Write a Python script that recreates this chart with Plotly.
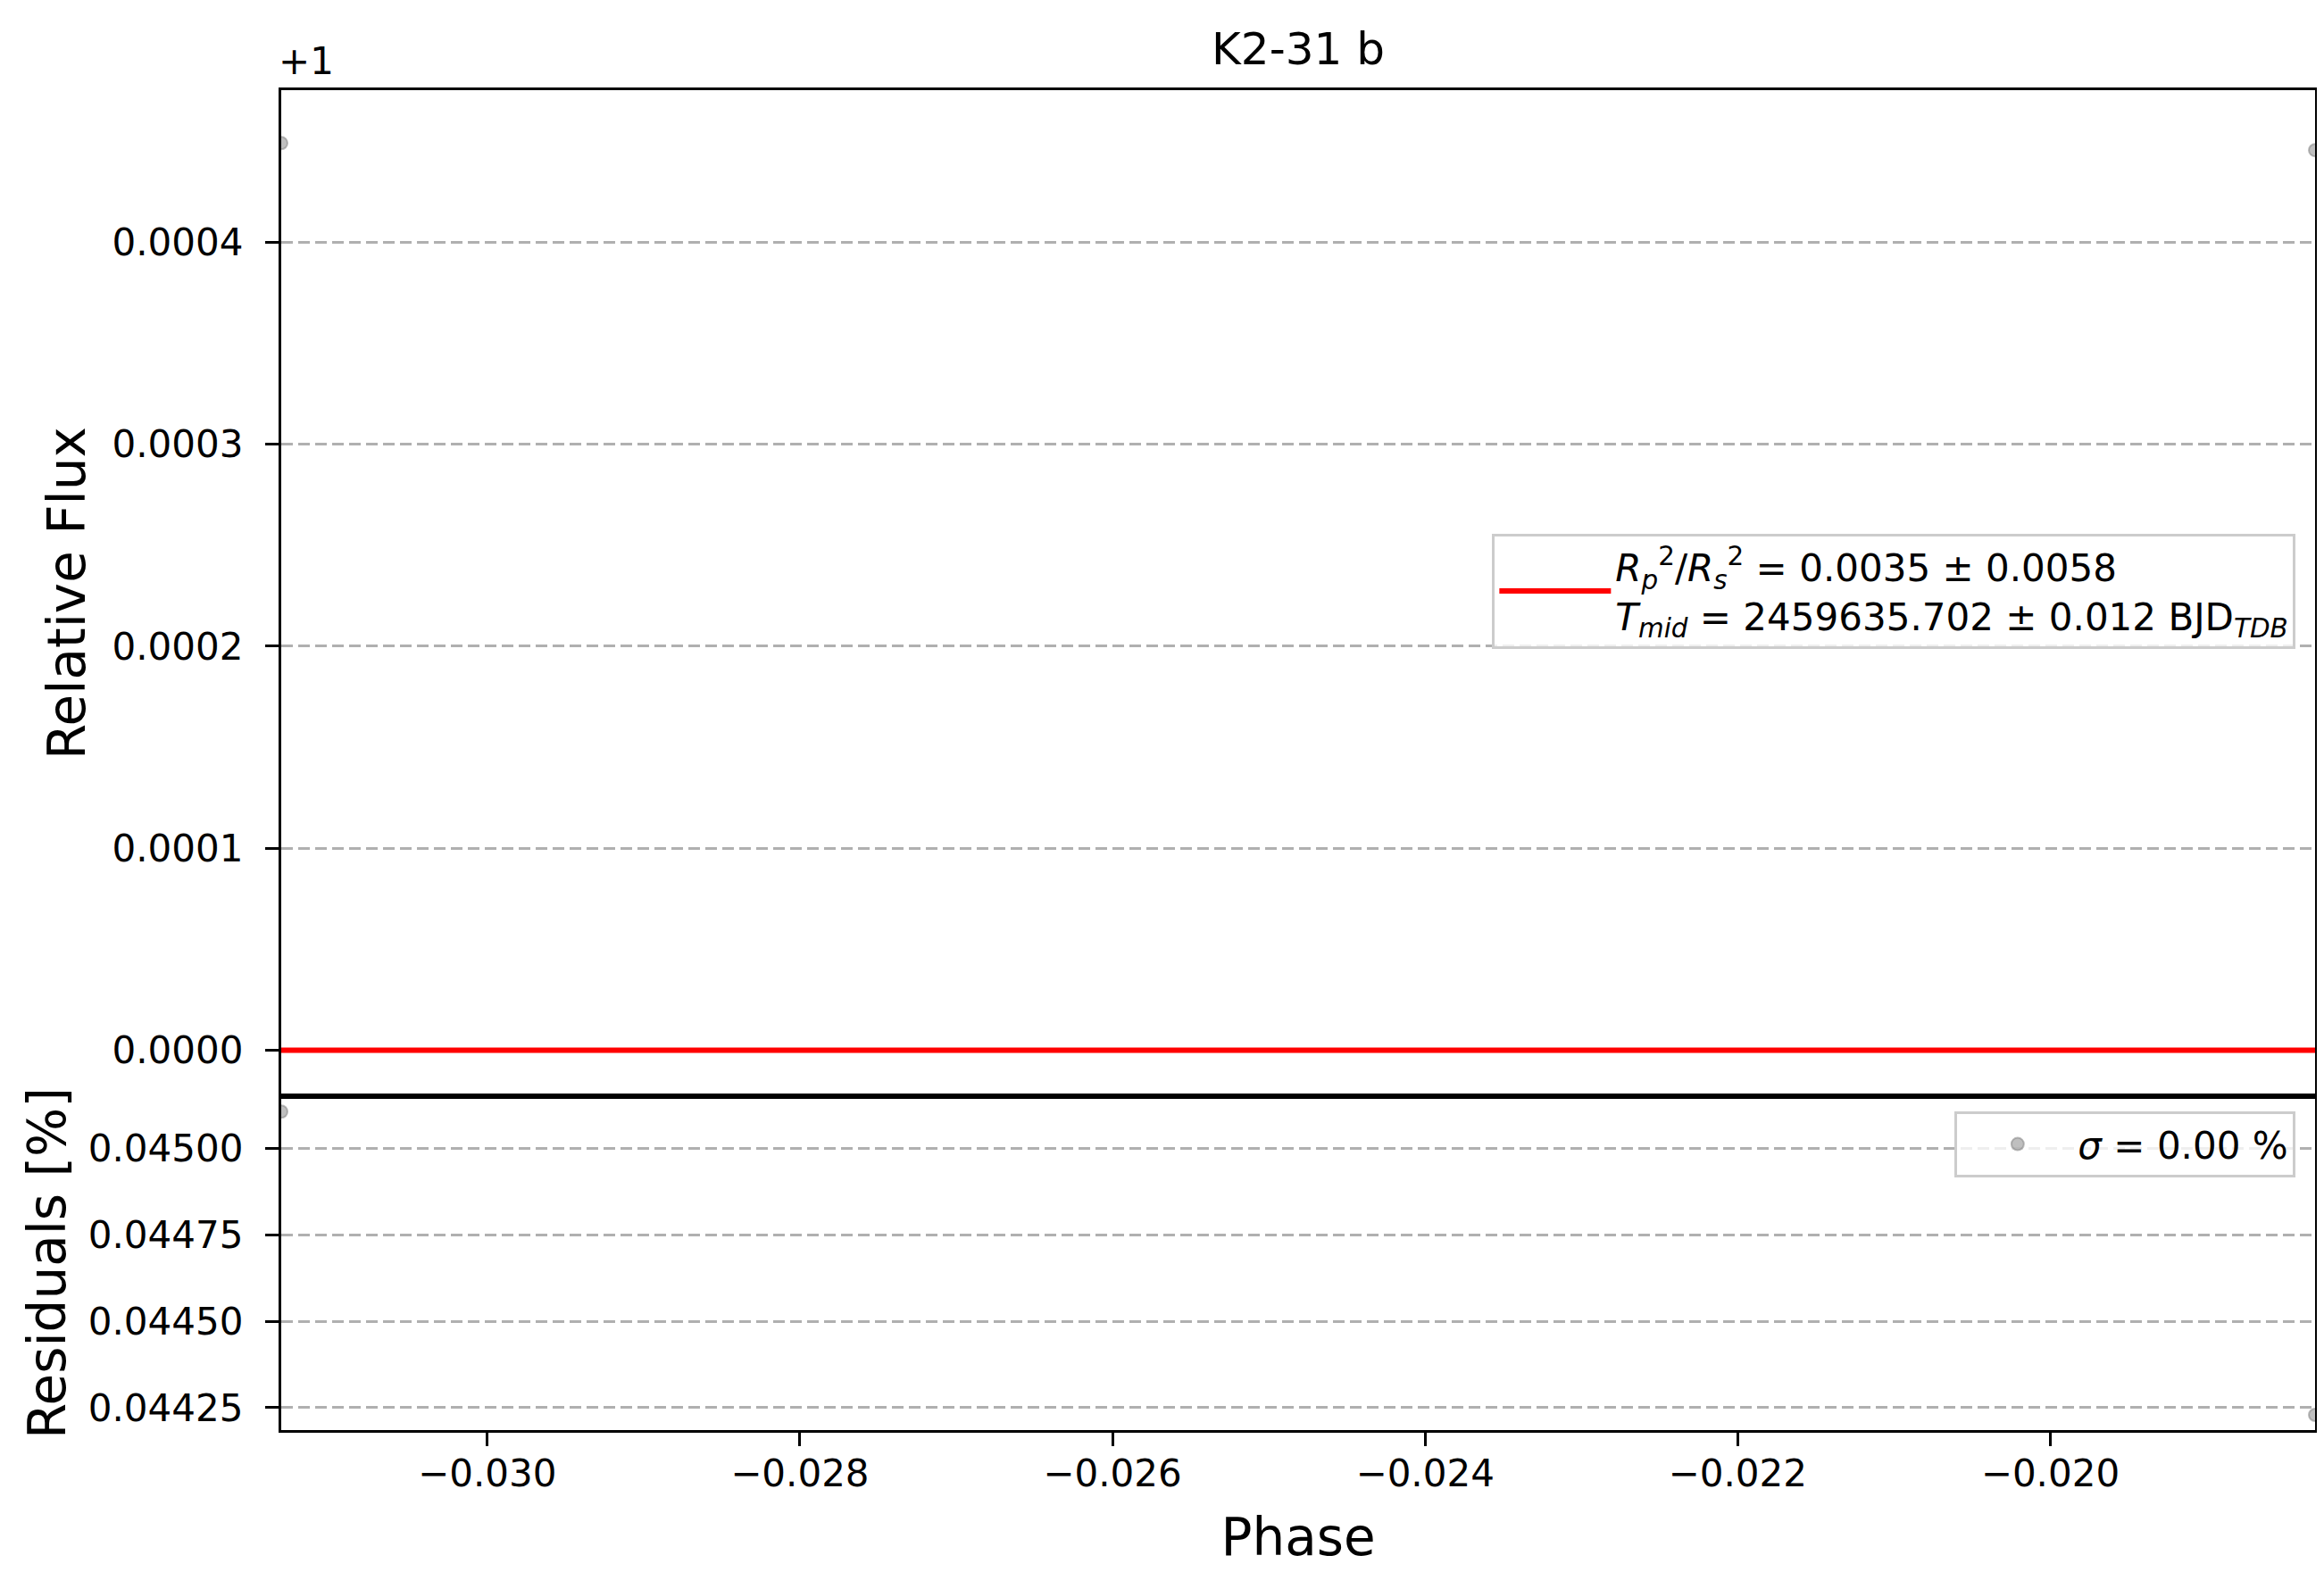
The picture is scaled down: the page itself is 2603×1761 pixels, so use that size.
import plotly.graph_objects as go
from plotly.subplots import make_subplots

planet = "K2-31 b"

# phase folded light curve
phase = [-0.031318, -0.018306]
flux = [1.000449, 1.0004455]
model = [1.0, 1.0]
residuals = [0.045107, 0.044229]  # in percent

rprs2 = (0.0035, 0.0058)
tmid = (2459635.702, 0.012)
sigma = 0.00

flux_ticks = [1.0, 1.0001, 1.0002, 1.0003, 1.0004]
flux_ticktext = ["0.0000", "0.0001", "0.0002", "0.0003", "0.0004"]
res_ticks = [0.04425, 0.04450, 0.04475, 0.04500]
phase_ticks = [-0.030, -0.028, -0.026, -0.024, -0.022, -0.020]

W, H = 2603, 1761
FONT = "DejaVu Sans"
grey_pt = "rgba(128,128,128,0.5)"

fig = make_subplots(rows=2, cols=1, shared_xaxes=True, vertical_spacing=0,
                    row_heights=[0.751, 0.249])

fig.add_trace(go.Scatter(
    x=phase, y=flux, mode="markers", showlegend=False,
    marker=dict(size=14, color=grey_pt, line=dict(color=grey_pt, width=2)),
), row=1, col=1)

fit_label = (f"<i>R</i><sub><i>p</i></sub><sup>2</sup>/<i>R</i><sub><i>s</i></sub><sup>2</sup>"
             f" = {rprs2[0]:.4f} ± {rprs2[1]:.4f}<br>"
             f"<i>T</i><sub><i>mid</i></sub> = {tmid[0]:.3f} ± {tmid[1]:.3f} BJD<sub><i>TDB</i></sub>")
fig.add_trace(go.Scatter(
    x=phase, y=model, mode="lines", name=fit_label, legend="legend",
    line=dict(color="red", width=6),
), row=1, col=1)

fig.add_trace(go.Scatter(
    x=phase, y=residuals, mode="markers", legend="legend2",
    name=f"<i>σ</i> = {sigma:.2f} %",
    marker=dict(size=14, color=grey_pt, line=dict(color=grey_pt, width=2)),
), row=2, col=1)

axis_common = dict(
    showline=True, mirror=True, linecolor="black", linewidth=3.3,
    zeroline=False, tickfont=dict(family=FONT, size=42, color="black"),
)
tick_common = dict(ticks="outside", ticklen=15, tickwidth=3.3, tickcolor="black")

fig.update_xaxes(**axis_common, showgrid=False, range=[min(phase), max(phase)])
fig.update_xaxes(showticklabels=False, ticks="", row=1, col=1)
fig.update_xaxes(**tick_common, tickvals=phase_ticks, tickformat=".3f", ticklabelstandoff=-6,
                 title=dict(text="Phase", font=dict(family=FONT, size=58, color="black"),
                            standoff=28),
                 row=2, col=1)

fig.update_yaxes(**axis_common, **tick_common, ticklabelstandoff=16,
                 showgrid=True, gridcolor="#b0b0b0", gridwidth=3.3, griddash="13px,6px")
fig.update_yaxes(range=[0.9999771, 1.0004752], tickvals=flux_ticks, ticktext=flux_ticktext,
                 title=dict(text="Relative Flux", font=dict(family=FONT, size=58, color="black"),
                            standoff=12),
                 row=1, col=1)
fig.update_yaxes(range=[0.044185, 0.045151], tickvals=res_ticks, tickformat=".5f",
                 title=dict(text="Residuals [%]", font=dict(family=FONT, size=58, color="black"),
                            standoff=7),
                 row=2, col=1)

legend_style = dict(
    bgcolor="rgba(255,255,255,0.8)", bordercolor="#cccccc", borderwidth=3,
    font=dict(family=FONT, size=42, color="black"),
    xref="paper", yref="paper", xanchor="right", tracegroupgap=0,
)

fig.update_layout(
    width=W, height=H,
    margin=dict(l=307, r=18, t=93, b=167),
    paper_bgcolor="white", plot_bgcolor="white",
    font=dict(family=FONT, color="black"),
    title=dict(text=planet, x=0.5, xref="paper", y=1 - 46 / H, yanchor="middle",
               font=dict(family=FONT, size=50, color="black")),
    legend=dict(legend_style, x=0.9905, y=0.626, yanchor="middle", itemwidth=125),
    legend2=dict(legend_style, x=0.9905, y=0.238, yanchor="top", itemwidth=125),
    annotations=[dict(text="+1", xref="paper", yref="paper", x=0, y=1,
                      xanchor="left", yanchor="bottom", yshift=6, xshift=-5,
                      showarrow=False,
                      font=dict(family=FONT, size=42, color="black"))],
)

fig.write_html("out.html")
